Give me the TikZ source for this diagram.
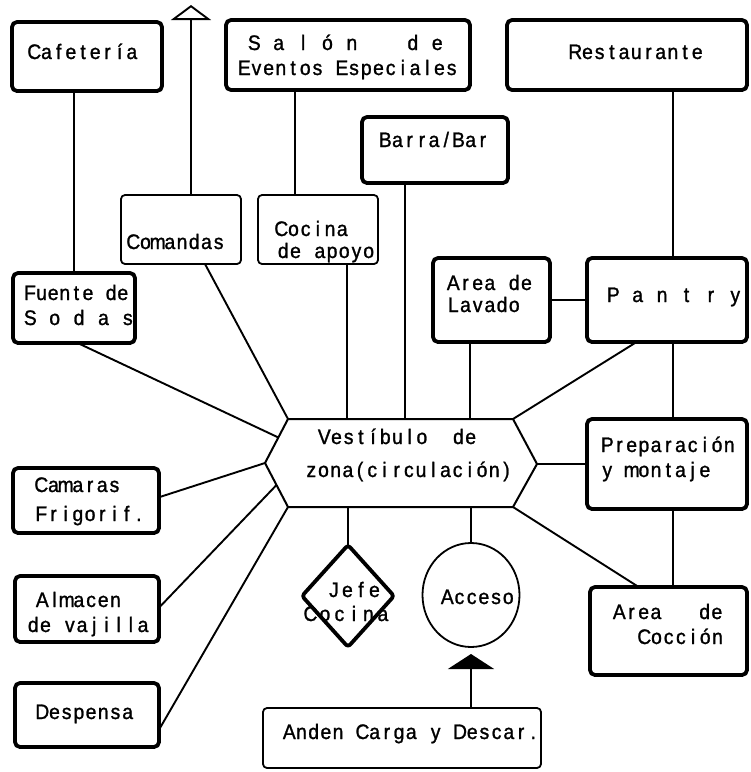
\documentclass[tikz,border=0pt]{standalone}
\usepackage{fontspec}
\setmainfont{Liberation Sans}[FakeStretch=0.92, FakeBold=1.2]
\usetikzlibrary{shapes.geometric,arrows.meta,calc}

% typewriter-like setting: every character sits centred in a cell of fixed width;
% "@" stands for an extra blank cell
\ExplSyntaxOn
\NewDocumentCommand\cells{O{12.2pt}m}{
  \str_map_inline:nn {#2}
    { \str_if_eq:nnTF {##1} {@} { \makebox[#1]{} } { \makebox[#1][c]{##1} } }
}
\ExplSyntaxOff

\begin{document}
\begin{tikzpicture}[x=1pt, y=-1pt, line join=round,
  heavy/.style={draw, line width=3.8pt, rounded corners=5pt, inner sep=0pt, outer sep=0pt},
  light/.style={draw, line width=1.8pt, rounded corners=4pt, inner sep=0pt, outer sep=0pt},
  link/.style={line width=1.9pt},
  txt/.style={inner sep=0pt, anchor=base west, font=\fontsize{21}{24}\selectfont}]
\useasboundingbox (0,0) rectangle (751,772);

% ---- boxes
\node[heavy, minimum width=150pt, minimum height=69pt] (caf)   at (87,56.5)  {};
\node[heavy, minimum width=244pt, minimum height=70pt] (salon) at (348,55)   {};
\node[heavy, minimum width=240pt, minimum height=70pt] (rest)  at (627,55)   {};
\node[heavy, minimum width=146pt, minimum height=66pt] (bar)   at (435,150)  {};
\node[light, minimum width=120pt, minimum height=69pt] (com)   at (181,229.5){};
\node[light, minimum width=120pt, minimum height=69pt] (coc)   at (318,229.5){};
\node[heavy, minimum width=122pt, minimum height=70pt] (fue)   at (74,308)   {};
\node[heavy, minimum width=117pt, minimum height=84pt] (lav)   at (491.5,300){};
\node[heavy, minimum width=160pt, minimum height=84pt] (pan)   at (667,300)  {};
\node[heavy, minimum width=160pt, minimum height=90pt] (pre)   at (667,464)  {};
\node[heavy, minimum width=157pt, minimum height=88pt] (cocc)  at (668.5,631){};
\node[heavy, minimum width=146pt, minimum height=65pt] (cam)   at (86,500.5) {};
\node[heavy, minimum width=144pt, minimum height=66pt] (alm)   at (87,609)   {};
\node[heavy, minimum width=144pt, minimum height=64pt] (des)   at (87,715)   {};
\node[light, minimum width=278pt, minimum height=60pt] (anden) at (402,738)  {};
\node[draw, diamond, line width=3.8pt, rounded corners=3pt, inner sep=0pt, outer sep=0pt,
      minimum width=92pt, minimum height=102pt] (jefe) at (348,596) {};
\node[draw, ellipse, line width=1.8pt, inner sep=0pt, outer sep=0pt,
      minimum width=97pt, minimum height=104pt] (acc) at (471,595) {};

% ---- central hall (hexagon)
\coordinate (hTL) at (288,419);
\coordinate (hTR) at (513,419);
\coordinate (hR)  at (537,464);
\coordinate (hBR) at (513,507);
\coordinate (hBL) at (288,507);
\coordinate (hL)  at (265,463);
\draw[line width=2pt] (hTL) -- (hTR) -- (hR) -- (hBR) -- (hBL) -- (hL) -- cycle;

% ---- connectors
\coordinate (up) at (191,5);
\draw[link, -{Triangle[open, length=15pt, width=40pt]}] (com.north -| up) -- (up);
\draw[link] (caf.south -| fue.north) -- (fue.north);
\coordinate (cocN) at ($(coc.north west)!0.31!(coc.north east)$);
\draw[link] (salon.south -| cocN) -- (cocN);
\draw[link] ($(com.south west)!0.7!(com.south east)$) -- (hTL);
\coordinate (cocS) at ($(coc.south west)!0.74!(coc.south east)$);
\draw[link] (cocS) -- (cocS |- hTL);
\coordinate (barS) at ($(bar.south west)!0.295!(bar.south east)$);
\draw[link] (barS) -- (barS |- hTL);
\coordinate (lavS) at ($(lav.south west)!0.316!(lav.south east)$);
\draw[link] (lavS) -- (lavS |- hTL);
\draw[link] (lav.east) -- (pan.west);
\coordinate (panN) at ($(pan.north)+(6,0)$);
\draw[link] (rest.south -| panN) -- (panN);
\draw[link] ($(pan.south west)!0.31!(pan.south east)$) -- (hTR);
\draw[link] (panN |- pan.south) -- (panN |- pre.north);
\draw[link] (hR) -- (hR -| pre.west);
\draw[link] (panN |- pre.south) -- (panN |- cocc.north);
\draw[link] (hBR) -- ($(cocc.north west)!0.31!(cocc.north east)$);
\draw[link] (acc.north |- hBL) -- (acc.north);
\draw[link] (jefe.north |- hBL) -- (jefe.north);
\draw[link, -{Triangle[length=15pt, width=46pt]}] (anden.north -| acc.south) -- ([yshift=-7pt]acc.south);
\draw[link] ($(hTL)!0.42!(hL)$) -- ($(fue.south west)!0.53!(fue.south east)$);
\draw[link] (hL) -- ($(cam.north east)!0.45!(cam.south east)$);
\draw[link] ($(hL)!0.5!(hBL)$) -- ($(alm.north east)!0.48!(alm.south east)$);
\draw[link] (hBL) -- ($(des.north east)!0.73!(des.south east)$);

% ---- labels
\node[txt] (tcaf)   at (28,59)   {\cells{Cafetería}};
\node[txt] (tsal1)  at (248,50)  {\cells{S a l ó n@@@ d e}};
\node[txt] (tsal2)  at (238,75)  {\cells{Eventos Especiales}};
\node[txt] (trest)  at (569,59)  {\cells{Restaurante}};
\node[txt] (tbar)   at (379,147) {\cells{Barra/Bar}};
\node[txt] (tcom)   at (127,249) {\cells{Comandas}};
\node[txt] (tcoc1)  at (275,236) {\cells{Cocina}};
\node[txt] (tcoc2)  at (277,258) {\cells{de apoyo}};
\node[txt] (tfue1)  at (24,300)  {\cells[11.6pt]{Fuente de}};
\node[txt] (tfue2)  at (24,325)  {\cells{S o d a s}};
\node[txt] (tlav1)  at (447,290) {\cells{Area de}};
\node[txt] (tlav2)  at (447,312) {\cells{Lavado}};
\node[txt] (tpan)   at (607,302) {\cells{P a n t r y}};
\node[txt] (tves1)  at (318,444) {\cells{Vestíbulo@ de}};
\node[txt] (tves2)  at (305,477) {\cells{zona(circulación)}};
\node[txt] (tpre1)  at (601,452) {\cells{Preparación}};
\node[txt] (tpre2)  at (601,477) {\cells{y montaje}};
\node[txt] (tcam1)  at (35,492)  {\cells{Camaras}};
\node[txt] (tcam2)  at (35,521)  {\cells{Frigorif.}};
\node[txt] (talm1)  at (36,607)  {\cells{Almacen}};
\node[txt] (talm2)  at (27,632)  {\cells{de vajilla}};
\node[txt] (tdes)   at (36,719)  {\cells{Despensa}};
\node[txt] (tjef1)  at (327,597) {\cells[13.5pt]{Jefe}};
\node[txt] (tjef2)  at (303,621) {\cells[14.5pt]{Cocina}};
\node[txt] (tacc)   at (441,604) {\cells{Acceso}};
\node[txt] (tcocc1) at (613,619) {\cells{Area@@ de}};
\node[txt] (tcocc2) at (638,644) {\cells{Cocción}};
\node[txt] (tand)   at (283,739) {\cells{Anden Carga y Descar.}};
\end{tikzpicture}
\end{document}
